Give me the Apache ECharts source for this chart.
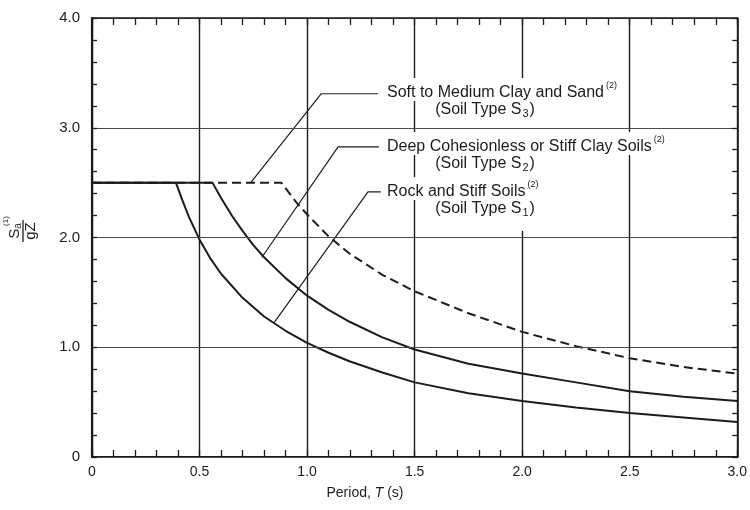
<!DOCTYPE html>
<html>
<head>
<meta charset="utf-8">
<script src="https://cdn.jsdelivr.net/npm/echarts@6/dist/echarts.min.js"></script>
<style>
  html, body { margin: 0; padding: 0; background: #fff; }
  #chart { width: 750px; height: 510px; }
</style>
</head>
<body>
<div id="chart"></div>
<script>
// period T (s) and Sa/gZ
const rockT = [0, 0.39, 0.42, 0.45, 0.5, 0.55, 0.6, 0.7, 0.8, 0.9, 1.0, 1.1, 1.2, 1.35, 1.5, 1.75, 2.0, 2.25, 2.5, 2.75, 3.0];
const rockSa = [2.5, 2.5, 2.34, 2.19, 1.98, 1.81, 1.67, 1.45, 1.28, 1.15, 1.04, 0.95, 0.87, 0.77, 0.68, 0.58, 0.51, 0.45, 0.40, 0.36, 0.32];

const deepT = [0, 0.56, 0.6, 0.65, 0.7, 0.75, 0.8, 0.9, 1.0, 1.1, 1.2, 1.35, 1.5, 1.75, 2.0, 2.25, 2.5, 2.75, 3.0];
const deepSa = [2.5, 2.5, 2.36, 2.2, 2.06, 1.93, 1.82, 1.63, 1.47, 1.34, 1.23, 1.09, 0.98, 0.85, 0.76, 0.68, 0.60, 0.55, 0.51];

const softT = [0, 0.88, 0.95, 1.0, 1.1, 1.2, 1.35, 1.5, 1.75, 2.0, 2.25, 2.5, 2.75, 3.0];
const softSa = [2.5, 2.5, 2.32, 2.21, 2.01, 1.85, 1.66, 1.51, 1.31, 1.14, 1.01, 0.90, 0.82, 0.76];

// leader lines from the labels to the curves (data coords)
const softLeader = [[0.738, 2.5], [1.066, 3.31], [1.33, 3.31]];
const deepLeader = [[0.79, 1.82], [1.144, 2.825], [1.334, 2.825]];
const rockLeader = [[0.845, 1.22], [1.283, 2.415], [1.343, 2.415]];

const xTickLabels = ['0', '0.5', '1.0', '1.5', '2.0', '2.5', '3.0'];
const yTickLabels = ['0', '1.0', '2.0', '3.0', '4.0'];

const FONT = '"Liberation Sans", Arial, Helvetica, sans-serif';
const INK = '#1c1c1c';

const zip = (xs, ys) => xs.map((x, i) => [x, ys[i]]);

const chart = echarts.init(document.getElementById('chart'));

const curve = (data, dashed) => ({
  type: 'line',
  data: data,
  symbol: 'none',
  silent: true,
  z: 5,
  lineStyle: { color: INK, width: 2, type: dashed ? [9, 5] : 'solid' }
});

const leader = (data) => ({
  type: 'line',
  data: data,
  symbol: 'none',
  silent: true,
  z: 4,
  lineStyle: { color: INK, width: 1.2 }
});

const tickCommon = {
  axisTick: { show: true, inside: true, length: 7, lineStyle: { color: INK, width: 1.3 } },
  minorTick: { show: true, splitNumber: 5, length: 7, lineStyle: { color: INK, width: 1.3 } }
};

// first line of a label, with the (2) note; y = text centre
const label1 = (x, y, main) => ({
  type: 'text',
  x: x, y: y - 3.5, z: 100,
  style: {
    text: '{m|' + main + '}{sup|(2)}',
    rich: {
      m: { fontSize: 16, lineHeight: 16, fontFamily: FONT, fill: INK },
      sup: { fontSize: 9, lineHeight: 16, fontFamily: FONT, fill: INK, padding: [0, 0, 14, 2] }
    },
    align: 'left', verticalAlign: 'middle',
    backgroundColor: '#fff', padding: [7, 3, 0, 3]
  }
});

// "(Soil Type Sn)" line; y = text centre
const label2 = (x, y, n) => ({
  type: 'text',
  x: x, y: y + 6, z: 99,
  style: {
    text: '{m|(Soil Type S}{sub|' + n + '}{m|)}',
    rich: {
      m: { fontSize: 16, lineHeight: 16, fontFamily: FONT, fill: INK },
      sub: { fontSize: 11, lineHeight: 16, fontFamily: FONT, fill: INK, padding: [8, 1, 0, 1] }
    },
    align: 'center', verticalAlign: 'middle',
    backgroundColor: '#fff', padding: [2, 4, 14, 4]
  }
});

chart.setOption({
  animation: false,
  backgroundColor: '#fff',
  grid: { left: 92, right: 8, top: 18, bottom: 53 },
  xAxis: [
    Object.assign({
      type: 'value', min: 0, max: 3, interval: 0.5, position: 'bottom',
      axisLine: { show: true, onZero: false, lineStyle: { color: INK, width: 2.2 } },
      axisLabel: {
        margin: 8, fontSize: 14, color: INK, fontFamily: FONT,
        formatter: (v) => xTickLabels[Math.round(v / 0.5)]
      },
      splitLine: { show: true, lineStyle: { color: '#1e1e1e', width: 1.4 } }
    }, tickCommon),
    Object.assign({
      type: 'value', min: 0, max: 3, interval: 0.5, position: 'top', z: 120,
      axisLine: { show: true, onZero: false, lineStyle: { color: INK, width: 1.6 } },
      axisLabel: { show: false },
      splitLine: { show: false }
    }, tickCommon)
  ],
  yAxis: [
    {
      type: 'value', min: 0, max: 4, interval: 1, position: 'left', z: 110,
      axisLine: { show: true, onZero: false, lineStyle: { color: INK, width: 2.2 } },
      axisTick: { show: true, inside: true, length: 5, lineStyle: { color: INK, width: 1.3 } },
      minorTick: { show: true, splitNumber: 5, length: 5, lineStyle: { color: INK, width: 1.3 } },
      axisLabel: {
        margin: 12, fontSize: 15, color: INK, fontFamily: FONT,
        formatter: (v) => yTickLabels[Math.round(v)]
      },
      splitLine: { show: true, lineStyle: { color: '#4a4a4a', width: 1 } }
    },
    {
      type: 'value', min: 0, max: 4, interval: 1, position: 'right', z: 120,
      axisLine: { show: true, onZero: false, lineStyle: { color: INK, width: 1.6 } },
      axisTick: { show: true, inside: true, length: 5, lineStyle: { color: INK, width: 1.3 } },
      minorTick: { show: true, splitNumber: 5, length: 5, lineStyle: { color: INK, width: 1.3 } },
      axisLabel: { show: false },
      splitLine: { show: false }
    }
  ],
  series: [
    curve(zip(softT, softSa), true),
    curve(zip(deepT, deepSa), false),
    curve(zip(rockT, rockSa), false),
    leader(softLeader),
    leader(deepLeader),
    leader(rockLeader)
  ],
  graphic: [
    label1(384, 93, 'Soft to Medium Clay and Sand'),
    label2(485, 110, '3'),
    label1(384, 147, 'Deep Cohesionless or Stiff Clay Soils'),
    label2(485, 164, '2'),
    label1(384, 192, 'Rock and Stiff Soils'),
    label2(485, 209, '1'),
    {
      type: 'group', x: 23, y: 231, rotation: Math.PI / 2, z: 100,
      children: [
        {
          type: 'text', x: 0, y: -8,
          style: {
            text: '{s|S}{a|a}',
            rich: {
              s: { fontSize: 15, fontFamily: FONT, fill: INK },
              a: { fontSize: 10, fontFamily: FONT, fill: INK, padding: [7, 0, 0, 0] }
            },
            align: 'center', verticalAlign: 'middle'
          }
        },
        { type: 'line', shape: { x1: -11, y1: 0, x2: 11, y2: 0 }, style: { stroke: INK, lineWidth: 1.3 } },
        {
          type: 'text', x: 0, y: 8,
          style: { text: 'gZ', font: '15px ' + FONT, fill: INK, align: 'center', verticalAlign: 'middle' }
        },
        {
          type: 'text', x: 10, y: -17,
          style: { text: '(1)', font: '8px ' + FONT, fill: INK, align: 'center', verticalAlign: 'middle' }
        }
      ]
    },
    {
      type: 'text', x: 365, y: 493, z: 100,
      style: {
        text: '{n|Period, }{i|T}{n| (s)}',
        rich: {
          n: { fontSize: 14, fontFamily: FONT, fill: INK },
          i: { fontSize: 14, fontFamily: FONT, fontStyle: 'italic', fill: INK }
        },
        align: 'center', verticalAlign: 'middle'
      }
    }
  ]
});
</script>
</body>
</html>
